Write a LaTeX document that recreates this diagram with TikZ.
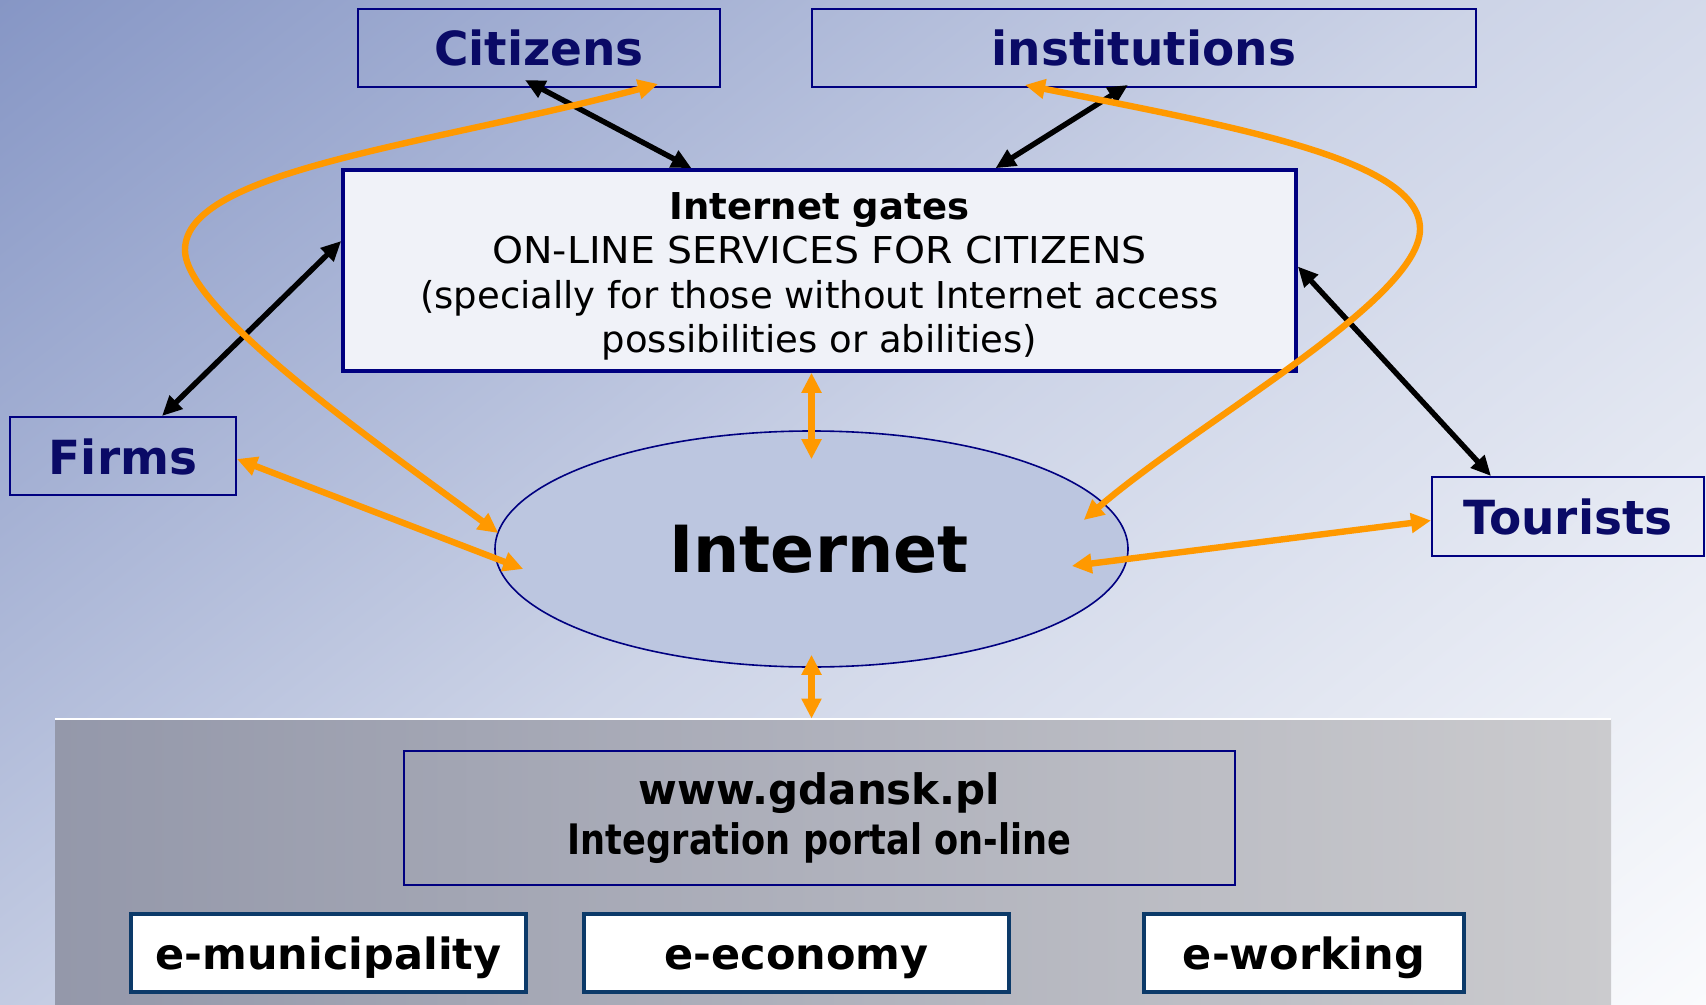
\documentclass[tikz,border=0pt]{standalone}
\usepackage[usenames,dvipsnames]{xcolor}
\usepackage{fontspec}
\setmainfont{DejaVu Sans}
\usepackage{tikz}
\usetikzlibrary{arrows.meta,shapes.geometric}

\definecolor{navyline}{RGB}{0,0,128}
\definecolor{navytext}{RGB}{10,10,102}
\definecolor{linkorange}{RGB}{255,153,0}
\definecolor{bgblue}{RGB}{134,150,197}
\definecolor{bgmid}{RGB}{205,212,231}
\definecolor{bgwhite}{RGB}{250,251,253}
\definecolor{panelleft}{RGB}{148,152,170}
\definecolor{panelright}{RGB}{203,203,206}
\definecolor{eboxblue}{RGB}{12,58,105}
\definecolor{netfill}{RGB}{188,198,224}
\definecolor{gatefill}{RGB}{240,242,248}

\tikzset{
  actor/.style={draw=navyline,line width=1pt,inner sep=0pt,minimum height=39pt,text height=21pt,text depth=3pt,text=navytext,font=\fontsize{23.5}{28}\selectfont\bfseries},
  gatebox/.style={draw=navyline,line width=1.8pt,fill=gatefill,inner sep=0pt,minimum width=476.5pt,minimum height=100.5pt,align=center,font=\fontsize{18.5}{22.25}\selectfont},
  netellipse/.style={ellipse,draw=navyline,line width=0.8pt,fill=netfill,inner sep=0pt,minimum width=316.5pt,minimum height=118pt,font=\fontsize{32.5}{38}\selectfont\bfseries},
  portalbox/.style={draw=navyline,line width=1pt,inner sep=0pt,minimum width=415.5pt,minimum height=67pt,align=center,font=\fontsize{21}{25}\selectfont\bfseries},
  ebox/.style={draw=eboxblue,line width=1.6pt,fill=white,inner sep=0pt,minimum height=39pt,text height=20pt,text depth=4pt,font=\fontsize{21.5}{26}\selectfont\bfseries},
  panelbox/.style={left color=panelleft,right color=panelright,inner sep=0pt,minimum width=778pt,minimum height=143pt},
  blackarrow/.style={{Triangle[length=10pt,width=9pt]}-{Triangle[length=10pt,width=9pt]},line width=2.7pt,black},
  orangearrow/.style={{Triangle[length=10pt,width=9.5pt]}-{Triangle[length=10pt,width=9.5pt]},line width=3.2pt,linkorange}
}

\begin{document}
\begin{tikzpicture}[x=0.5pt,y=-0.5pt]
  \useasboundingbox (0,0) rectangle (1706,1005);
  \begin{scope}
    \clip (0,0) rectangle (1706,1005);
    \shade[top color=bgblue,bottom color=bgwhite,middle color=bgmid,shading angle=38.2] (-69.5,-420) rectangle (1775.5,1425);
  \end{scope}

  \draw (833,862) node[panelbox] (panel) {};
  \draw[white,line width=1pt] (panel.north west) -- (panel.north east);

  \draw (539,48) node[actor,minimum width=181pt] (citizens) {Citizens};
  \draw (1144,48) node[actor,minimum width=332pt] (institutions) {institutions};
  \draw (123,456) node[actor,minimum width=113pt] (firms) {Firms};
  \draw (1568,516.5) node[actor,minimum width=136pt,minimum height=39.5pt] (tourists) {Tourists};

  \draw (819.5,270.5) node[gatebox] (gates) {\rule{0pt}{19.5pt}\textbf{Internet gates}\\\scalebox{1.066}[1]{ON-LINE SERVICES FOR CITIZENS}\\(specially for those without Internet access\\possibilities or abilities)};
  \draw (811.5,549) node[netellipse] (internet) {\hspace*{7.5pt}Internet};

  \draw (819.5,818) node[portalbox] (portal) {www.gdansk.pl\\\scalebox{0.837}[1]{Integration portal on-line}};
  \draw (328.5,953) node[ebox,minimum width=197.5pt] (emunicipality) {e-municipality};
  \draw (796.5,953) node[ebox,minimum width=212.5pt] (eeconomy) {e-economy};
  \draw (1304,953) node[ebox,minimum width=160pt] (eworking) {e-working};

  \path[blackarrow] ([xshift=-7pt,yshift=4pt]citizens.south) edge ([xshift=-64pt]gates.north);
  \path[blackarrow] ([xshift=-8pt,yshift=1.5pt]institutions.south) edge ([xshift=88pt]gates.north);
  \path[blackarrow] ([xshift=19.5pt]firms.north) edge ([yshift=14.75pt]gates.west);
  \path[blackarrow] ([xshift=-38.5pt]tourists.north) edge ([yshift=2pt]gates.east);

  \path[orangearrow] (gates.south -| internet.north) edge ([yshift=-14.5pt]internet.north);
  \path[orangearrow] ([yshift=6.5pt]internet.south) edge (internet.south |- panel.north);
  \path[orangearrow] ([yshift=-1.5pt]firms.east) edge ([xshift=14.5pt,yshift=-10pt]internet.west);
  \path[orangearrow] ([yshift=-2pt]tourists.west) edge ([xshift=-28.5pt,yshift=-8.5pt]internet.east);

  \coordinate (westbend) at (185,250);
  \coordinate (eastbend) at (1420,229);
  \draw[orangearrow] ([xshift=59.5pt,yshift=2pt]citizens.south) .. controls (430,145) and (185,170) .. (westbend)
    .. controls (185,310) and (378,444) .. ([xshift=2pt,yshift=8pt]internet.west);
  \draw[orangearrow] ([xshift=-59.5pt,yshift=1.5pt]institutions.south) .. controls (1241,128) and (1420,160) .. (eastbend)
    .. controls (1420,300) and (1197,422) .. ([xshift=-22.5pt,yshift=14.5pt]internet.east);
\end{tikzpicture}
\end{document}
